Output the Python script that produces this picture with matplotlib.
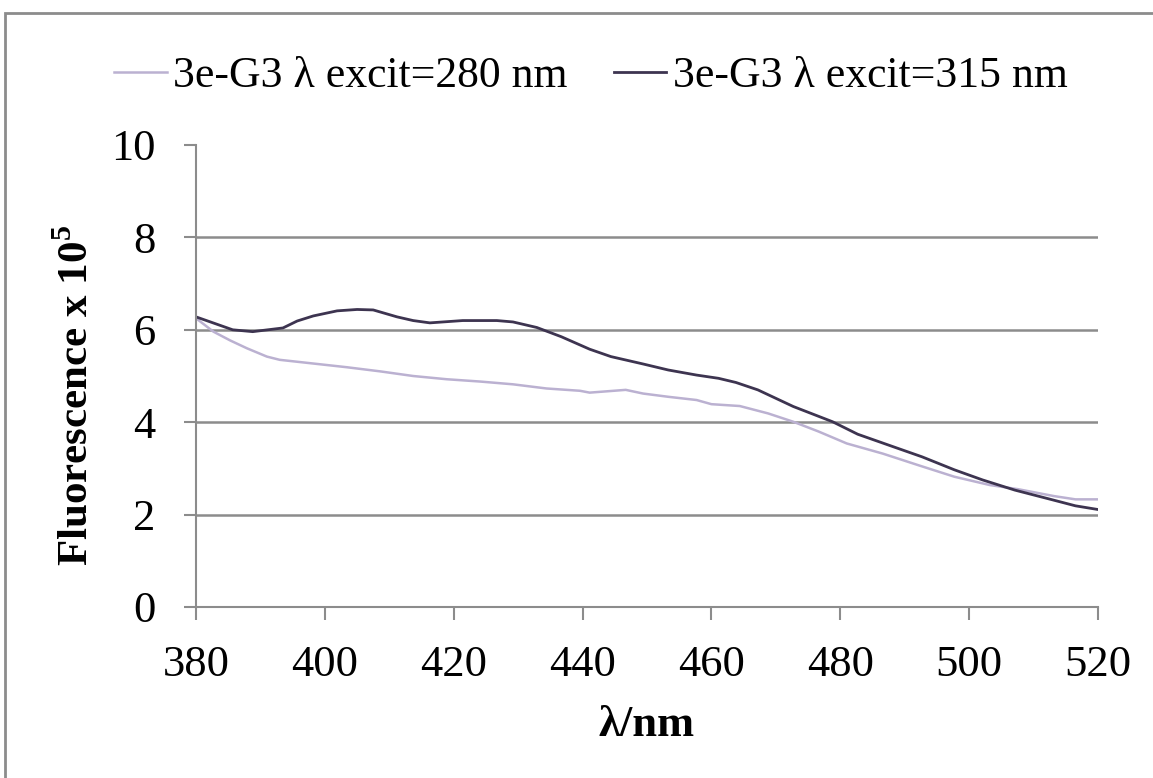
import matplotlib.pyplot as plt
from matplotlib.patches import Rectangle

plt.rcParams['font.family'] = ['Liberation Serif', 'DejaVu Serif']
plt.rcParams['mathtext.fontset'] = 'custom'
plt.rcParams['mathtext.rm'] = 'Liberation Serif'
plt.rcParams['mathtext.bf'] = 'Liberation Serif:bold'

# excitation 280 nm (light)
wl_280 = [380, 382.7, 385.3, 387.9, 391, 393, 398.2, 403.4, 408.6, 413.7, 418.9,
          424.1, 429.2, 434.4, 439.6, 441.1, 446.7, 449.4, 453.3, 457.7, 460,
          464.4, 468.8, 472.7, 476.6, 481, 486.6, 492.1, 497.7, 503.2, 507.6,
          513.2, 516.5, 520]
fl_280 = [6.25, 5.96, 5.77, 5.60, 5.42, 5.35, 5.27, 5.19, 5.10, 5.00, 4.93,
          4.88, 4.82, 4.73, 4.68, 4.64, 4.70, 4.62, 4.55, 4.48, 4.39,
          4.35, 4.19, 4.01, 3.80, 3.54, 3.32, 3.07, 2.82, 2.64, 2.55,
          2.40, 2.33, 2.33]

# excitation 315 nm (dark)
wl_315 = [380, 385.7, 388.8, 393.5, 395.7, 398.2, 401.9, 405, 407.5, 411.2,
          413.7, 416.3, 421.4, 426.7, 429.2, 432.9, 436.7, 441.1, 444.4, 449.4,
          453.3, 457.7, 461.1, 463.8, 467.2, 472.7, 478.8, 482.7, 488.2, 492.7,
          497.7, 502.1, 507.1, 512.1, 516.5, 520]
fl_315 = [6.28, 6.00, 5.96, 6.04, 6.19, 6.30, 6.41, 6.44, 6.43, 6.28,
          6.20, 6.15, 6.20, 6.20, 6.17, 6.05, 5.85, 5.58, 5.42, 5.26,
          5.13, 5.02, 4.95, 4.86, 4.70, 4.34, 4.01, 3.74, 3.47, 3.25,
          2.97, 2.75, 2.53, 2.35, 2.19, 2.11]

labels = ['3e-G3 λ excit=280 nm', '3e-G3 λ excit=315 nm']
xticks = [380, 400, 420, 440, 460, 480, 500, 520]
yticks = [0, 2, 4, 6, 8, 10]

grey = '#8c8c8c'

fig = plt.figure(figsize=(11.53, 7.78), dpi=100)
ax = fig.add_axes([196/1153, 1-607/778, (1098-196)/1153, (607-145)/778])

ax.plot(wl_280, fl_280, color='#bbb1d1', lw=1.8, label=labels[0])
ax.plot(wl_315, fl_315, color='#3d3450', lw=2.0, label=labels[1])

ax.set_xlim(380, 520)
ax.set_ylim(0, 10)
ax.set_xticks(xticks)
ax.set_yticks(yticks)
for y in [2, 4, 6, 8]:
    ax.axhline(y, color=grey, lw=1.8, zorder=0)

for s in ['top', 'right']:
    ax.spines[s].set_visible(False)
for s in ['left', 'bottom']:
    ax.spines[s].set_color(grey)
    ax.spines[s].set_linewidth(1.5)
ax.tick_params(colors=grey, labelcolor='black', labelsize=32, length=9, width=1.5)
ax.tick_params(axis='y', pad=20)
ax.tick_params(axis='x', pad=18)

ax.set_xlabel('λ/nm', fontsize=32, fontweight='bold', labelpad=15)
fig.text(77/1153, 1-395/778, r'Fluorescence x 10$^{\mathbf{5}}$', fontsize=31,
         fontweight='bold', rotation=90, ha='center', va='center')

fig.legend(loc='center', bbox_to_anchor=(591/1153, 1-76/778), ncol=2, frameon=False,
           fontsize=31.5, handlelength=1.2, handletextpad=0.15, columnspacing=1.05)

fig.patches.append(Rectangle((5/1153, -0.1), 1.2, 0.1+1-13/778, transform=fig.transFigure,
                             fill=False, edgecolor=grey, lw=2))

fig.savefig('out.png', dpi=100)
